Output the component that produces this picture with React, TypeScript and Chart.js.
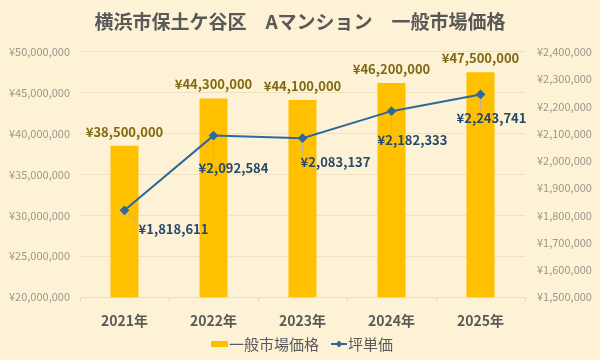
import React, { useEffect, useRef } from 'react';
import { Chart, registerables } from 'chart.js';

Chart.register(...registerables);

const FONT = "'Noto Sans CJK JP', 'Noto Sans', sans-serif";

const chartTitle = '横浜市保土ケ谷区　Aマンション　一般市場価格';
const years = ['2021年', '2022年', '2023年', '2024年', '2025年'];
const marketPrice = [38500000, 44300000, 44100000, 46200000, 47500000];
const tsuboPrice = [1818611, 2092584, 2083137, 2182333, 2243741];
const seriesNames = ['一般市場価格', '坪単価'];

// label placement offsets (styling, not data)
const lineLabelOffsets: [number, number][] = [
  [49, 19],
  [20, 32],
  [33, 24],
  [21, 29],
  [11, 24],
];

const BG = '#FEF2D6';
const BAR = '#FFC000';
const LINE = '#2E6A99';
const BAR_LABEL = '#7E6A10';
const LINE_LABEL = '#24496B';
const TEXT = '#595959';
const TICK = '#9C968A';

const fmt = (n: number) => '¥' + n.toLocaleString('en-US');

const labelPlugin = {
  id: 'customLabels',
  afterDatasetsDraw(chart: any) {
    const ctx = chart.ctx as CanvasRenderingContext2D;
    const barMeta = chart.getDatasetMeta(0);
    const lineMeta = chart.getDatasetMeta(1);
    ctx.save();
    ctx.font = `bold 13px ${FONT}`;
    ctx.textAlign = 'center';
    ctx.textBaseline = 'middle';
    ctx.fillStyle = BAR_LABEL;
    barMeta.data.forEach((el: any, i: number) => {
      ctx.fillText(fmt(marketPrice[i]), el.x, el.y - 14);
    });
    lineMeta.data.forEach((el: any, i: number) => {
      const [dx, dy] = lineLabelOffsets[i];
      const text = fmt(tsuboPrice[i]);
      const w = ctx.measureText(text).width;
      const h = 14;
      const cx = el.x + dx;
      const cy = el.y + dy;
      const left = cx - w / 2 - 2;
      const right = cx + w / 2 + 2;
      const top = cy - h / 2 - 2;
      const bottom = cy + h / 2 + 2;
      const nx = Math.max(left, Math.min(el.x, right));
      const ny = Math.max(top, Math.min(el.y, bottom));
      const vx = nx - el.x;
      const vy = ny - el.y;
      const d = Math.hypot(vx, vy);
      if (d > 9) {
        ctx.strokeStyle = '#B8B0A0';
        ctx.lineWidth = 1;
        ctx.beginPath();
        ctx.moveTo(el.x + (vx / d) * 6, el.y + (vy / d) * 6);
        ctx.lineTo(nx, ny);
        ctx.stroke();
      }
      ctx.fillStyle = LINE_LABEL;
      ctx.fillText(text, cx, cy);
    });
    ctx.restore();
  },
  afterDraw(chart: any) {
    const ctx = chart.ctx as CanvasRenderingContext2D;
    ctx.save();
    ctx.font = `15px ${FONT}`;
    ctx.textBaseline = 'middle';
    ctx.textAlign = 'left';
    const y = 344;
    const w1 = ctx.measureText(seriesNames[0]).width;
    const w2 = ctx.measureText(seriesNames[1]).width;
    const total = 18 + w1 + 12 + 17 + w2;
    let x = 302 - total / 2;
    ctx.fillStyle = BAR;
    ctx.fillRect(x, y - 3, 17, 6);
    x += 18;
    ctx.fillStyle = TEXT;
    ctx.fillText(seriesNames[0], x, y);
    x += w1 + 12;
    ctx.strokeStyle = LINE;
    ctx.lineWidth = 2;
    ctx.beginPath();
    ctx.moveTo(x, y);
    ctx.lineTo(x + 16, y);
    ctx.stroke();
    ctx.fillStyle = LINE;
    ctx.beginPath();
    ctx.moveTo(x + 8, y - 3.5);
    ctx.lineTo(x + 11.5, y);
    ctx.lineTo(x + 8, y + 3.5);
    ctx.lineTo(x + 4.5, y);
    ctx.closePath();
    ctx.fill();
    x += 17;
    ctx.fillStyle = TEXT;
    ctx.fillText(seriesNames[1], x, y);
    ctx.restore();
  },
};

export default function App() {
  const ref = useRef<HTMLCanvasElement | null>(null);
  useEffect(() => {
    if (!ref.current) return;
    const chart = new Chart(ref.current, {
      type: 'bar',
      data: {
        labels: years,
        datasets: [
          {
            type: 'bar',
            label: seriesNames[0],
            data: marketPrice,
            backgroundColor: BAR,
            yAxisID: 'y',
            order: 2,
            barPercentage: 0.315,
            categoryPercentage: 1,
          },
          {
            type: 'line',
            label: seriesNames[1],
            data: tsuboPrice,
            borderColor: LINE,
            backgroundColor: LINE,
            borderWidth: 2,
            pointStyle: 'rectRot',
            pointRadius: 3.5,
            yAxisID: 'y1',
            order: 1,
          },
        ] as any,
      },
      options: {
        responsive: false,
        animation: false,
        layout: { padding: { top: 0, bottom: 20, left: 0, right: 0 } },
        plugins: {
          legend: { display: false },
          tooltip: { enabled: false },
          title: {
            display: true,
            text: chartTitle,
            color: TEXT,
            font: { family: FONT, size: 19, weight: 'bold' },
            padding: { top: 10, bottom: 19 },
          },
        },
        scales: {
          x: {
            offset: true,
            grid: {
              display: true,
              drawOnChartArea: false,
              drawTicks: true,
              tickLength: 4,
              color: '#DDD3BC',
              offset: true,
            },
            border: { display: true, color: '#EDE0C0' },
            ticks: {
              color: TEXT,
              font: { family: FONT, size: 14, weight: 'bold' },
              padding: 11,
            },
          },
          y: {
            position: 'left',
            min: 20000000,
            max: 50000000,
            ticks: {
              stepSize: 5000000,
              callback: (v: any) => fmt(Number(v)),
              color: TICK,
              font: { family: FONT, size: 11 },
              padding: 10,
            },
            grid: { color: '#EFE2C2', drawTicks: false },
            border: { display: false },
            afterFit: (s: any) => {
              s.width = 80;
            },
          },
          y1: {
            position: 'right',
            min: 1500000,
            max: 2400000,
            ticks: {
              stepSize: 100000,
              callback: (v: any) => fmt(Number(v)),
              color: TICK,
              font: { family: FONT, size: 11 },
              padding: 12,
            },
            grid: { display: false, drawTicks: false },
            border: { display: false },
            afterFit: (s: any) => {
              s.width = 75;
            },
          },
        },
      } as any,
      plugins: [labelPlugin],
    });
    return () => chart.destroy();
  }, []);
  return (
    <div
      style={{
        position: 'fixed',
        left: 0,
        top: 0,
        width: 600,
        height: 360,
        background: BG,
      }}
    >
      <canvas ref={ref} width={600} height={360} />
    </div>
  );
}
